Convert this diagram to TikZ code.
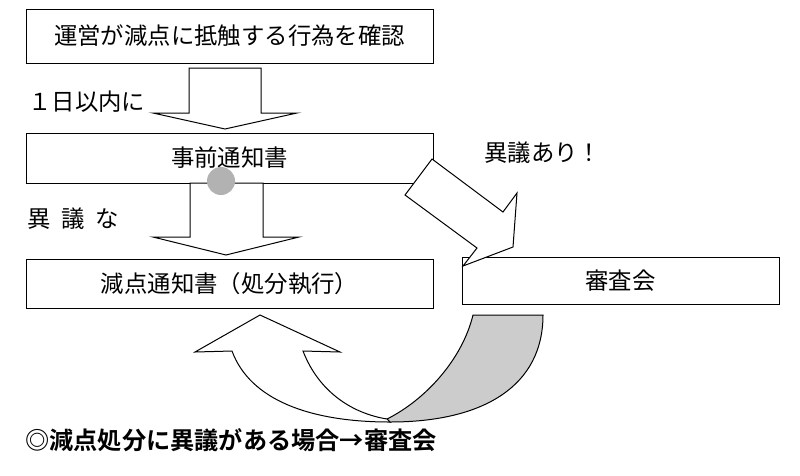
\documentclass[tikz,border=0pt]{standalone}
\usepackage{fontspec}
\usepackage{tikz}
\usetikzlibrary{positioning}
\newfontfamily\jp{Noto Sans CJK JP}[BoldFont={Noto Sans CJK JP Bold}]
\tikzstyle{box}=[draw, line width=1pt, rectangle, inner sep=0pt]
\tikzstyle{label}=[inner sep=0pt, anchor=west]
\tikzstyle{block}=[draw, line width=1pt, fill=white, line join=miter]

\begin{document}
\begin{tikzpicture}[x=1pt, y=-1pt, font=\jp\fontsize{23.4}{26}\selectfont]
\useasboundingbox (0,0) rectangle (800,475);
\fill[white] (0,0) rectangle (800,475);

\node[box, minimum width=407pt, minimum height=54pt] (check) at (229.5, 36) {運営が減点に抵触する行為を確認};
\node[box, minimum width=407pt, minimum height=50pt] (notice) at (229.5, 158) {事前通知書};
\node[box, minimum width=407pt, minimum height=49pt] (deduct) at (229.5, 283.5) {減点通知書（処分執行）};
\node[box, minimum width=317pt, minimum height=47pt] (review) at (620.5, 280.5) {審査会};

\node[label] (oneday) at (28, 102) {１日以内に};
\node[label] (noobj) at (27, 219) {異\hspace{11pt}議\hspace{11pt}な};
\node[label] (obj) at (484, 153) {異議あり！};
\node[label, font=\jp\bfseries\fontsize{24.2}{27}\selectfont] (note) at (25, 440) {◎減点処分に異議がある場合→審査会};

% block arrows
\draw[block] (189,68) -- (261,68) -- (261,113) -- (297,113) -- (225,129) -- (153,113) -- (189,113) -- cycle;
\draw[block] (190,183) -- (263,183) -- (263,237) -- (299,237) -- (226,255) -- (153,237) -- (190,237) -- cycle;
\draw[block] (432,159) -- (503,212) -- (517,193) -- (513,247) -- (463,266) -- (477,248) -- (405,195) -- cycle;

% curved arrow back to deduct
\filldraw[draw=black, line width=1pt, fill=gray!40] (387,419) .. controls (425,400) and (462,360) .. (473,315) -- (543,315) .. controls (543,385) and (485,422) .. (390,422) -- cycle;
\draw[block] (232,351) .. controls (250,400) and (310,422) .. (390,422) -- (387,419) .. controls (350,413) and (318,390) .. (303,351) -- (340,352) -- (260,315) -- (195,352) -- cycle;

\fill[gray!60] (221,181) circle (14);

\end{tikzpicture}
\end{document}
